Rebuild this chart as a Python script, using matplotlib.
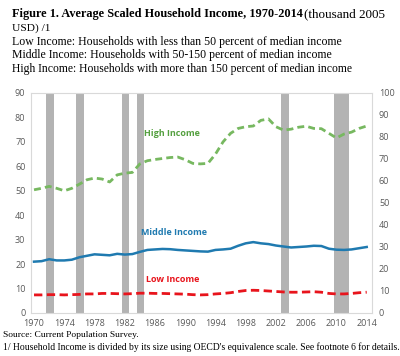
import numpy as np
import matplotlib
matplotlib.use("Agg")
import matplotlib.pyplot as plt

years = list(range(1970, 2015))
high = [50.4, 51.0, 51.8, 51.0, 50.0, 51.0, 52.7, 54.5, 55.2, 54.8, 53.6, 56.5,
        57.2, 57.5, 61.0, 62.3, 62.8, 63.2, 63.6, 63.8, 62.7, 61.2, 61.0, 61.2,
        65.0, 70.0, 73.5, 75.5, 76.2, 76.5, 78.8, 79.4, 76.2, 74.8, 75.2, 76.0,
        76.4, 75.5, 75.4, 73.5, 71.6, 73.2, 74.0, 75.5, 76.5]
middle = [21.0, 21.2, 22.0, 21.5, 21.5, 21.8, 22.8, 23.4, 24.0, 23.8, 23.6, 24.2,
          23.9, 24.1, 25.0, 25.8, 26.0, 26.2, 26.1, 25.8, 25.6, 25.4, 25.2, 25.1,
          25.8, 26.0, 26.3, 27.5, 28.5, 29.0, 28.5, 28.2, 27.6, 27.2, 26.8, 27.0,
          27.2, 27.5, 27.4, 26.3, 25.9, 25.8, 26.0, 26.5, 27.0]
low = [7.4, 7.4, 7.5, 7.5, 7.4, 7.5, 7.6, 7.8, 7.8, 8.0, 8.0, 7.9, 7.8, 7.9,
       8.1, 8.1, 8.0, 8.0, 7.9, 7.8, 7.7, 7.5, 7.4, 7.5, 7.8, 8.0, 8.3, 8.8,
       9.2, 9.3, 9.2, 9.0, 8.8, 8.6, 8.5, 8.5, 8.6, 8.7, 8.5, 8.0, 7.8, 7.8,
       8.0, 8.3, 8.5]
recession_start = [1971.6, 1975.6, 1981.6, 1983.6, 2002.7, 2009.7]
recession_end = [1972.6, 1976.6, 1982.6, 1984.6, 2003.7, 2011.6]
xticks = list(range(1970, 2015, 4))

serif = "Liberation Serif"
sans = ["Open Sans", "DejaVu Sans"]
tick_col = "#595959"
W, H = 400, 356

fig = plt.figure(figsize=(W / 100, H / 100), dpi=100)
renderer = fig.canvas.get_renderer()


def fit_text(x0, x1, y, s, size=9, **kw):
    # place text with its left edge at x0 px and shrink it to end near x1 px
    t = fig.text(x0 / W, 1 - y / H, s, family=serif, fontsize=size,
                 va="center", **kw)
    w = t.get_window_extent(renderer).width
    t.set_fontsize(size * (x1 - x0) / w)
    return t


ax = fig.add_axes([0.0775, 0.1208, 0.8525, 0.618])

for s, e in zip(recession_start, recession_end):
    ax.axvspan(s, e, color="#b3b3b3", lw=0, zorder=1)

ax.plot(years, high, color="#77b860", lw=2.0, ls=(0, (2.5, 1.5)), zorder=3)
ax.plot(years, middle, color="#1f7ab0", lw=1.8, zorder=3)
ax.plot(years, low, color="#e8141c", lw=2.0, ls=(0, (3, 1.6)), zorder=3)

ax.text(1988.2, 73.5, "High Income", color="#55a040", fontsize=6.5,
        fontweight="bold", family=sans, ha="center", va="center")
ax.text(1988.5, 33.0, "Middle Income", color="#1f7ab0", fontsize=6.5,
        fontweight="bold", family=sans, ha="center", va="center")
ax.text(1988.3, 13.5, "Low Income", color="#e8141c", fontsize=6.5,
        fontweight="bold", family=sans, ha="center", va="center")

ax.set_xlim(1969.6, 2014.7)
ax.set_ylim(0, 90)
ax.set_yticks(range(0, 91, 10))
ax.set_xticks(xticks)
for sp in ax.spines.values():
    sp.set_color("#d9d9d9")
    sp.set_linewidth(0.8)
ax.tick_params(length=0, labelsize=6.5, labelcolor=tick_col, pad=4)
for lab in ax.get_xticklabels() + ax.get_yticklabels():
    lab.set_family(sans)

ax2 = ax.twinx()
ax2.set_ylim(0, 100)
ax2.set_yticks(range(0, 101, 10))
for sp in ax2.spines.values():
    sp.set_visible(False)
ax2.tick_params(length=0, labelsize=6.5, labelcolor=tick_col, pad=5)
for lab in ax2.get_yticklabels():
    lab.set_family(sans)

# header
fit_text(12, 300, 14, "Figure 1. Average Scaled Household Income, 1970-2014",
         fontweight="bold")
fit_text(304, 385, 14, "(thousand 2005")
fit_text(12, 50, 28, "USD) /1")
fit_text(12, 340, 42, "Low Income: Households with less than 50 percent of median income")
fit_text(12, 330, 55, "Middle Income: Households with 50-150 percent of median income")
fit_text(12, 352, 69, "High Income: Households with more than 150 percent of median income")

# footer
fit_text(3, 138, 335, "Source: Current Population Survey.")
fit_text(3, 397, 347,
         "1/ Household Income is divided by its size using OECD's equivalence scale. See footnote 6 for details.")

fig.savefig("out.png", dpi=100)
